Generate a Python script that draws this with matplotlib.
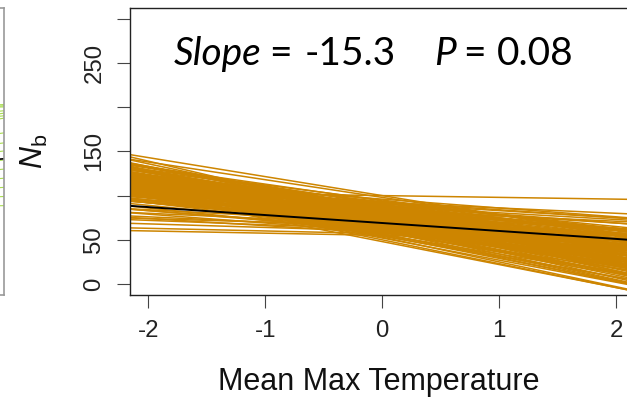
import matplotlib
matplotlib.use("Agg")
import matplotlib.pyplot as plt

# ---------------- data ----------------
# posterior draws of the regression line (intercept at x=0, slope)
intercepts = [100, 98, 80, 77, 100, 92, 88, 96,
              55, 57, 60, 62, 64, 58, 66, 68, 70, 63,
              75, 78, 72, 70, 74, 80, 82, 85, 88, 90, 92, 86, 84, 78, 76, 72, 68, 66,
              64, 62, 60, 58, 66, 68, 71, 73, 76, 79, 81, 83, 87, 89, 91, 93, 95, 94,
              90, 87, 82, 79, 73, 70, 67, 63, 60, 57, 55, 52, 50, 48, 53, 56, 59, 62,
              65, 69, 71, 74, 77, 69, 67, 65, 63, 61, 59, 70, 76, 80, 84, 86, 88, 81,
              85, 83, 78, 74, 91, 93,
              73, 75, 77, 79, 81, 83, 85, 71, 69, 67, 65, 63, 61, 72, 74, 76, 78, 80,
              82, 84, 86, 70, 68, 66, 64, 62, 60, 58, 56, 54, 75, 77, 79, 81, 73, 71,
              69, 67, 65, 87, 89, 85, 83, 78]
slopes = [-21.5, -20, -28, -31, -2, -6, -7.5, -10,
          -2.5, -3, -4, -5, -6, -8, -4, -6, -7, -10,
          -15, -16, -14, -18, -20, -20, -18, -15, -14, -16, -18, -20, -22, -24, -26, -25, -24, -22,
          -20, -18, -16, -14, -13, -12, -11, -12, -11, -12, -13, -11, -12, -10, -13, -15, -17, -19,
          -21, -23, -25, -27, -28, -29, -30, -29, -28, -27, -26, -25, -27, -26, -28, -24, -23, -24,
          -26, -27, -23, -22, -21, -20, -17, -15, -13, -11, -10, -14, -17, -17, -16, -17, -19, -9,
          -8, -6, -8, -9, -8, -9,
          -16, -19, -14, -22, -15, -19, -21, -17, -19, -16, -18, -21, -19, -13, -14, -18, -13, -15,
          -22, -20, -18, -24, -25, -23, -27, -21, -23, -20, -22, -23, -23, -25, -17, -23, -21, -20,
          -16, -14, -19, -22, -17, -12, -10, -15]
mean_intercept = 69
mean_slope = -9

# fragment of the neighbouring panel (only its right edge is visible)
green_intercepts = [150, 140, 132, 125, 118, 110, 104, 98, 92, 86, 80, 160, 170, 180, 190, 196]
green_slopes = [20, 22, 18, 16, 15, 14, 12, 10, 8, 6, 4, 14, 12, 10, 6, 2]
green_mean_intercept = 120
green_mean_slope = 10

x_ticks = [-2, -1, 0, 1, 2]
y_ticks = [0, 50, 100, 150, 200, 250, 300]
y_tick_labels = ["0", "50", "", "150", "", "250", ""]

# ---------------- layout ----------------
W, H = 627, 397
plt.rcParams["axes.unicode_minus"] = False
plt.rcParams["mathtext.fontset"] = "custom"
plt.rcParams["mathtext.it"] = "Liberation Sans:italic"
plt.rcParams["mathtext.rm"] = "Liberation Sans"

fig = plt.figure(figsize=(W / 100, H / 100), dpi=100)


def fx(px):
    return px / W


def fy(py):
    return 1 - py / H


L, R, T, B = 129.5, 634.7, 8.2, 294.6
ax = fig.add_axes([fx(L), fy(B), fx(R) - fx(L), fy(T) - fy(B)])
ax.set_xlim(-2.16, 2.16)
ax.set_ylim(-12, 312)

orange = "#CD8500"
for a, b in zip(intercepts, slopes):
    ax.axline((0, a), slope=b, color=orange, lw=1.1)
ax.axline((0, mean_intercept), slope=mean_slope, color="black", lw=1.4)

ax.set_xticks(x_ticks)
ax.set_xticklabels([str(v) for v in x_ticks], fontsize=17.3,
                   fontfamily="Liberation Sans", color="#222222")
ax.set_yticks(y_ticks)
ax.set_yticklabels(y_tick_labels, fontsize=17.3, fontfamily="Liberation Sans",
                   rotation=90, va="center", color="#222222")
ax.tick_params(axis="both", direction="out", length=9.4, width=0.8,
               color="#444444")
ax.tick_params(axis="x", pad=9)
ax.tick_params(axis="y", pad=8)
for s in ax.spines.values():
    s.set_color("#222222")
    s.set_linewidth(1.0)

# neighbouring panel fragment
ax0 = fig.add_axes([fx(-500), fy(B), fx(3.5) - fx(-500), fy(T) - fy(B)])
ax0.set_xlim(-2.16, 2.16)
ax0.set_ylim(-12, 312)
for a, b in zip(green_intercepts, green_slopes):
    ax0.axline((0, a), slope=b, color="#A8DC50", lw=0.8)
ax0.axline((0, green_mean_intercept), slope=green_mean_slope, color="black", lw=1.2)
ax0.set_xticks([])
ax0.set_yticks([])
for s in ax0.spines.values():
    s.set_color("#999999")
    s.set_linewidth(1.2)

# labels
fig.text(fx(379), fy(390), "Mean Max Temperature", ha="center", va="baseline",
         fontsize=22, fontfamily="Liberation Sans", color="#111111")
fig.text(fx(34.5), fy(151.5), r"$N_{\mathrm{b}}$", ha="center", va="center",
         rotation=90, fontsize=22, color="#111111")

# annotation pieces
fs = 28
base = fy(65)
fig.text(fx(174), base, "Slope", fontsize=fs, fontfamily="Lato", style="italic",
         va="baseline", ha="left")
fig.text(fx(269), base, "=", fontsize=fs, fontfamily="Lato", va="baseline", ha="left")
fig.text(fx(305), base, "-15.3", fontsize=fs, fontfamily="Lato", va="baseline", ha="left")
fig.text(fx(434), base, "P", fontsize=fs, fontfamily="Lato", style="italic",
         va="baseline", ha="left")
fig.text(fx(463), base, "=", fontsize=fs, fontfamily="Lato", va="baseline", ha="left")
fig.text(fx(497), base, "0.08", fontsize=fs, fontfamily="Lato", va="baseline", ha="left")

fig.savefig("out.png", dpi=100)
